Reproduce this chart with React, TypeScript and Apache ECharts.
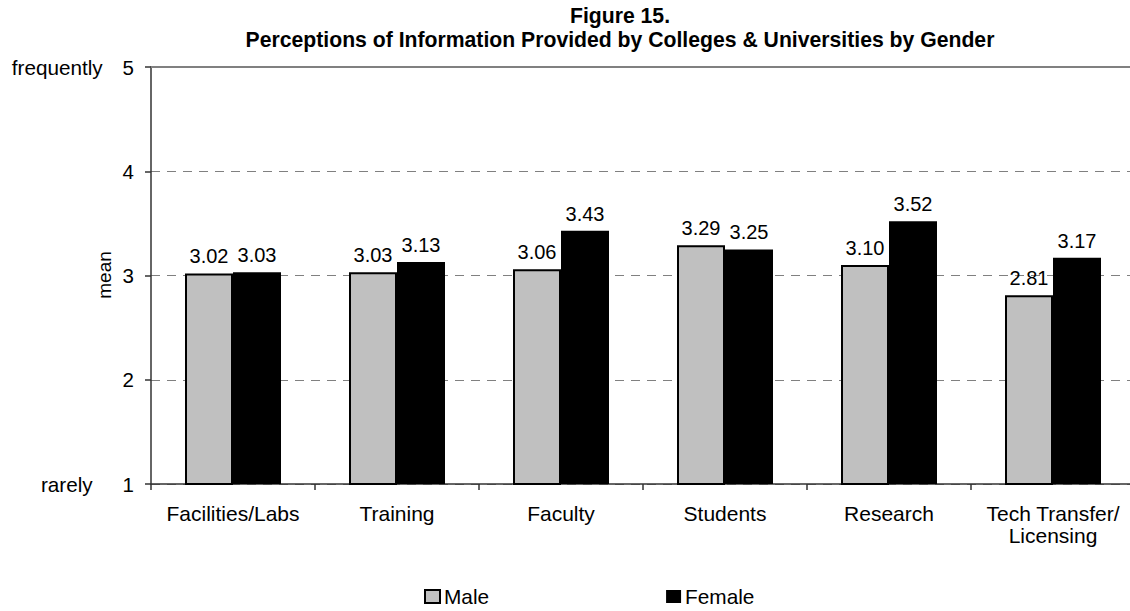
import React, { useEffect, useRef } from "react";
import * as echarts from "echarts";

const categories = [
  "Facilities/Labs",
  "Training",
  "Faculty",
  "Students",
  "Research",
  "Tech Transfer/\nLicensing",
];
const maleValues = [3.02, 3.03, 3.06, 3.29, 3.1, 2.81];
const femaleValues = [3.03, 3.13, 3.43, 3.25, 3.52, 3.17];
const yTicks = { min: 1, max: 5, interval: 1 };
const yAxisName = "mean";
const titleLines = [
  "Figure 15.",
  "Perceptions of Information Provided by Colleges & Universities by Gender",
];

const FONT = '"Liberation Sans", Arial, sans-serif';

export default function App() {
  const ref = useRef<HTMLDivElement>(null);
  useEffect(() => {
    if (!ref.current) return;
    const chart = echarts.init(ref.current, null, { renderer: "svg" });
    const labelStyle = {
      show: true,
      position: "top" as const,
      distance: 7,
      fontSize: 20,
      fontFamily: FONT,
      color: "#000",
      formatter: (p: any) => Number(p.value).toFixed(2),
    };
    chart.setOption({
      animation: false,
      backgroundColor: "#fff",
      textStyle: { fontFamily: FONT, color: "#000" },
      title: {
        text: titleLines.join("\n"),
        left: 620,
        top: 3,
        padding: 0,
        textAlign: "center",
        textStyle: {
          fontFamily: FONT,
          fontSize: 21.2,
          fontWeight: "bold",
          color: "#000",
          lineHeight: 24,
        },
      },
      graphic: [
        {
          type: "text",
          x: 104,
          y: 275,
          rotation: Math.PI / 2,
          style: {
            text: yAxisName,
            font: '19px "Liberation Sans", Arial, sans-serif',
            fontSize: 19,
            fontFamily: FONT,
            fill: "#000",
            align: "center",
            verticalAlign: "middle",
          },
        },
      ],
      legend: {
        left: 424,
        top: 586,
        padding: 0,
        itemWidth: 15,
        itemHeight: 13,
        itemGap: 177,
        icon: "rect",
        textStyle: { fontFamily: FONT, fontSize: 20.8, color: "#000", padding: [0, 0, 0, -1] },
        data: [
          { name: "Male", itemStyle: { color: "#C0C0C0", borderColor: "#000", borderWidth: 2 } },
          { name: "Female", itemStyle: { color: "#000" } },
        ],
      },
      grid: { left: 151, top: 67, width: 984, height: 417, outerBoundsMode: "none", containLabel: false },
      xAxis: [
        {
          type: "category",
          data: categories,
          axisLine: { show: true, lineStyle: { color: "#333", width: 1.5 } },
          axisTick: { show: true, length: 6, lineStyle: { color: "#333", width: 1.5 } },
          axisLabel: {
            fontFamily: FONT,
            fontSize: 21,
            color: "#000",
            margin: 18,
            lineHeight: 22,
            interval: 0,
          },
        },
        {
          type: "category",
          data: categories,
          position: "top",
          axisLine: { show: true, lineStyle: { color: "#808080", width: 2 } },
          axisTick: { show: false },
          axisLabel: { show: false },
        },
      ],
      yAxis: {
        type: "value",
        min: yTicks.min,
        max: yTicks.max,
        interval: yTicks.interval,
        axisLine: { show: true, lineStyle: { color: "#333", width: 1.5 } },
        axisTick: { show: true, length: 6, lineStyle: { color: "#333", width: 1.5 } },
        splitLine: {
          show: true,
          lineStyle: { color: "#808080", type: [9, 7], width: 1 },
        },
        axisLabel: {
          fontFamily: FONT,
          fontSize: 20.5,
          color: "#000",
          margin: 17,
          formatter: (v: number) =>
            v === yTicks.max
              ? "{n|frequently}{v|" + v + "}"
              : v === yTicks.min
              ? "{r|rarely}{v|" + v + "}"
              : "{v|" + v + "}",
          rich: {
            n: { fontFamily: FONT, fontSize: 20.7, color: "#000", padding: [0, 20, 0, 0] },
            r: { fontFamily: FONT, fontSize: 20.7, color: "#000", padding: [0, 30, 0, 0] },
            v: { fontFamily: FONT, fontSize: 20.5, color: "#000" },
          },
        },
      },
      series: [
        {
          name: "Male",
          type: "bar",
          data: maleValues,
          barWidth: 48,
          barGap: "0%",
          itemStyle: { color: "#C0C0C0", borderColor: "#000", borderWidth: 2 },
          label: labelStyle,
        },
        {
          name: "Female",
          type: "bar",
          data: femaleValues,
          barWidth: 48,
          barGap: "0%",
          itemStyle: { color: "#000" },
          label: labelStyle,
        },
      ],
    });
    return () => chart.dispose();
  }, []);
  return (
    <div
      ref={ref}
      style={{ position: "absolute", left: 0, top: 0, width: 1130, height: 611 }}
    />
  );
}
